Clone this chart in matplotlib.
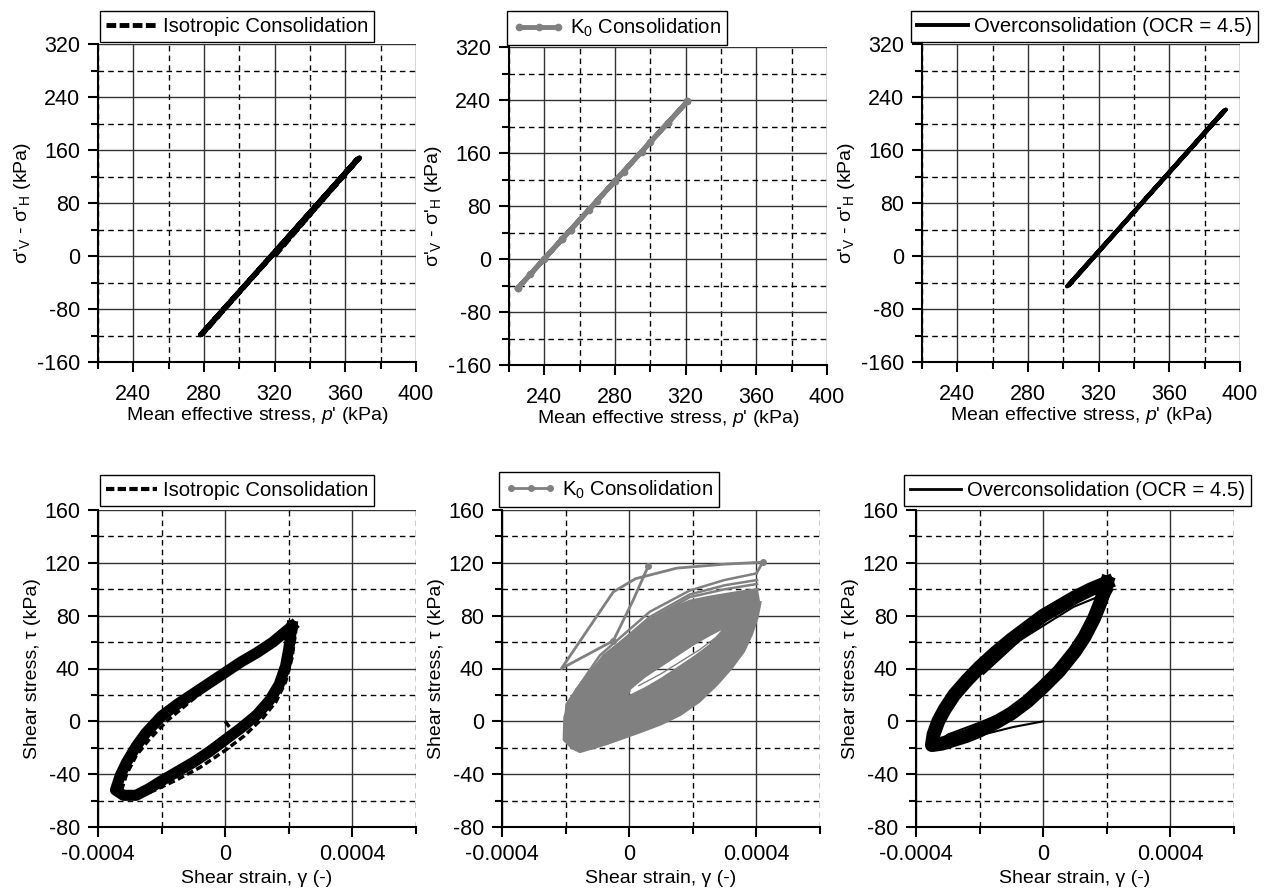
import numpy as np
import matplotlib
matplotlib.use("Agg")
import matplotlib.pyplot as plt
from matplotlib.ticker import MultipleLocator, FuncFormatter
from matplotlib.path import Path
from matplotlib.patches import PathPatch

plt.rcParams['font.family'] = ['Liberation Sans', 'DejaVu Sans']
plt.rcParams['font.size'] = 14
plt.rcParams['axes.unicode_minus'] = False
plt.rcParams['mathtext.fontset'] = 'custom'
plt.rcParams['mathtext.rm'] = 'Liberation Sans'
plt.rcParams['mathtext.it'] = 'Liberation Sans:italic'

GREY = "#808080"

# ---- stress paths (p', q) ----
iso_p = [320, 367, 279, 368, 278, 367, 279, 367, 278, 368, 320]
iso_q = [0, 147, -117, 148, -119, 146, -118, 147, -119, 148, 2]

k0_p = [225, 240, 255, 270, 285, 300, 321, 310, 295, 280, 265, 250, 232, 225, 250, 280, 310, 321]
k0_q = [-44, 0, 44, 88, 132, 176, 238, 206, 162, 118, 74, 30, -23, -44, 30, 118, 206, 238]

ocr_p = [346, 392, 302, 391, 303, 392, 346]
ocr_q = [85, 221, -46, 220, -45, 221, 85]

# ---- shear stress-strain (strain in units of 1e-4, stress in kPa) ----
# isotropic
iso_band_g = [2.1, 1.8, 1.5, 1.0, 0.5, 0.0, -0.5, -1.0, -1.5, -2.0, -2.5, -2.8, -3.1, -3.3, -3.45,
              -3.2, -2.8, -2.4, -2.0, -1.5, -1.0, -0.5, 0.0, 0.5, 1.0, 1.4, 1.7, 1.9, 2.0, 2.1]
iso_band_t = [72, 66, 60, 52, 45, 37, 29, 21, 13, 4, -9, -19, -31, -41, -52,
              -56, -56, -51, -45, -38, -31, -23, -14, -5, 5, 16, 28, 42, 55, 72]
iso_drift_g = [2.25, 1.5, 1.0, 0.2, -0.8, -1.8, -2.4, -2.8, -3.1, -3.3,
               -2.8, -2.2, -1.5, -0.8, 0.0, 0.6, 1.2, 1.6, 1.9, 2.1, 2.25]
iso_drift_t = [74, 61, 53, 39, 21, 1, -14, -26, -40, -55,
               -58, -52, -44, -35, -22, -11, 3, 15, 30, 48, 74]
iso_init_g = [0.0, 0.25, 1.0]
iso_init_t = [0, -8, 5]

# K0: grey band outline (outer) and the open core (hole)
k0_outer_g = [4.05, 3.5, 3.0, 2.5, 1.9, 1.3, 0.65, 0.0, -0.71, -1.2, -1.66, -1.9, -2.03, -2.05,
              -1.8, -1.55, -0.71, 0.34, 1.0, 1.6, 2.2, 2.76, 3.2, 3.6, 3.85, 4.02, 4.12]
k0_outer_t = [100, 98, 96, 94, 91, 85, 76, 64, 50, 38, 24, 13, 3, -14,
              -20, -23, -17, -8, -2, 5, 15, 28, 40, 53, 66, 78, 90]
k0_hole_g = [0.05, 0.5, 1.0, 1.5, 2.0, 2.5, 2.9, 2.5, 2.0, 1.5, 1.0, 0.5, 0.0]
k0_hole_t = [24, 33, 41, 49, 57, 64, 69, 58, 49, 41, 33, 26, 20]
k0_init_g = [0.6, 0.13, -0.5, -2.13, -0.5, 0.2, 1.5, 3.0, 4.2, 4.0]
k0_init_t = [117.6, 92, 61, 40, 98, 108, 116, 119, 120.5, 112]
k0_thin1_g = [4.0, 3.0, 1.9, 0.65, -0.92, -1.97, -2.03]
k0_thin1_t = [112, 107, 99, 83, 50, 13, -8]
k0_thin2_g = [4.02, 3.0, 1.9, 0.65, -0.85, -1.9, -2.0]
k0_thin2_t = [107, 103, 96, 79, 48, 14, -6]
k0_thin3_g = [4.02, 3.0, 1.9, 0.65, -0.8, -1.8]
k0_thin3_t = [104, 100, 94, 77, 50, 18]
k0_inner_g = [0.3, 1.0, 1.6, 2.2, 2.7]
k0_inner_t = [27, 36, 45, 54, 63]

# overconsolidated
ocr_init_g = [0.0, -0.94, -1.99, -3.25, -3.55, -3.0, -2.0, -1.0, 0.0, 1.16, 1.7, 2.18, 1.6, 0.95, -0.73, -1.88]
ocr_init_t = [0, -4.3, -10.6, -15.7, -21, -10, -1, 9, 24, 54, 78, 100, 93, 86.6, 61.4, 36]
ocr_band_g = [2.0, 1.5, 1.0, 0.5, 0.0, -0.5, -1.0, -1.5, -2.0, -2.4, -2.8, -3.1, -3.3, -3.45, -3.5,
              -3.2, -2.8, -2.4, -2.0, -1.5, -1.0, -0.5, 0.0, 0.5, 1.0, 1.3, 1.6, 1.8, 2.0]
ocr_band_t = [105, 100, 94, 87, 80, 71, 62, 52, 41, 31, 20, 9, 0, -10, -18,
              -17, -14, -11, -7, -1, 6, 15, 26, 38, 53, 64, 78, 90, 105]


def style_axes(ax, xlim, ylim, xmaj, xmin, ymaj, ymin, xpad):
    ax.set_xlim(*xlim)
    ax.set_ylim(*ylim)
    ax.xaxis.set_major_locator(MultipleLocator(xmaj))
    ax.xaxis.set_minor_locator(MultipleLocator(xmin))
    ax.yaxis.set_major_locator(MultipleLocator(ymaj))
    ax.yaxis.set_minor_locator(MultipleLocator(ymin))
    ax.grid(which='major', color='#333333', lw=1.0, ls='-')
    ax.grid(which='minor', color='black', lw=1.0, ls=(0, (4, 3)))
    ax.set_axisbelow(True)
    for s in ['top', 'right']:
        ax.spines[s].set_visible(False)
    for s in ['left', 'bottom']:
        ax.spines[s].set_linewidth(1.5)
    ax.tick_params(which='major', direction='out', length=7, width=1.5, labelsize=15.5)
    ax.tick_params(which='minor', direction='out', length=5, width=1.5)
    ax.tick_params(axis='x', which='major', pad=xpad)
    ax.tick_params(axis='y', which='major', pad=6)


def add_legend(ax, x, y, numpoints=1):
    leg = ax.legend(loc='lower left', bbox_to_anchor=(x, y), borderaxespad=0,
                    fancybox=False, framealpha=1, edgecolor='black', fontsize=14.6,
                    borderpad=0.3, handlelength=2.5, handletextpad=0.3,
                    numpoints=numpoints)
    leg.get_frame().set_linewidth(1.0)


fig = plt.figure(figsize=(12.66, 8.9), dpi=100)
W, H = 1266, 890
tops = [(98, 44), (509, 47), (922, 44)]
bots = [(98, 510), (502, 510), (916, 510)]
axs_top = [fig.add_axes([l / W, 1 - (t + 318) / H, 318 / W, 318 / H]) for l, t in tops]
axs_bot = [fig.add_axes([l / W, 1 - (t + 317) / H, 318 / W, 317 / H]) for l, t in bots]

ylab_top = "σ'$_\\mathregular{V}$ - σ'$_\\mathregular{H}$ (kPa)"
xlab_top = "Mean effective stress, $\\mathit{p}$' (kPa)"

# top row
ax = axs_top[0]
ax.plot(iso_p, iso_q, color='black', lw=3.5, ls=(0, (2, 0.7)), label='Isotropic Consolidation')
ax2 = axs_top[1]
ax2.plot(k0_p, k0_q, color=GREY, lw=3.5, marker='o', ms=4.5, label='K$_0$ Consolidation')
ax3 = axs_top[2]
ax3.plot(ocr_p, ocr_q, color='black', lw=2.8, label='Overconsolidation (OCR = 4.5)')

legpos_top = [(0.006, 1.006), (-0.006, 1.006), (-0.035, 1.006)]
for a, (lx, ly), npnt in zip(axs_top, legpos_top, [1, 3, 1]):
    style_axes(a, (220, 400), (-160, 320), 40, 20, 80, 40, xpad=9)
    a.set_xlabel(xlab_top, fontsize=14, labelpad=0)
    a.set_ylabel(ylab_top, fontsize=14, labelpad=3)
    add_legend(a, lx, ly, npnt)

# bottom row
e4 = 1e-4
ax = axs_bot[0]
ax.plot(np.array(iso_band_g) * e4, iso_band_t, color='black', lw=8, solid_joinstyle='round')
ax.plot(np.array(iso_drift_g) * e4, iso_drift_t, color='black', lw=2.5, ls=(0, (2, 1)))
ax.plot(np.array(iso_init_g) * e4, iso_init_t, color='black', lw=2.5, ls=(0, (2, 1)))
ax.plot([], [], color='black', lw=3, ls=(0, (2, 0.8)), label='Isotropic Consolidation')

ax = axs_bot[1]
outer = Path(np.column_stack([np.array(k0_outer_g) * e4, k0_outer_t]), closed=False)
hole = Path(np.column_stack([np.array(k0_hole_g) * e4, k0_hole_t]), closed=False)
band = PathPatch(Path.make_compound_path(outer, hole), facecolor=GREY, edgecolor='none', lw=0)
ax.add_patch(band)
ax.plot(np.array(k0_outer_g) * e4, k0_outer_t, color=GREY, lw=2, solid_joinstyle='round')
ax.plot(np.array(k0_inner_g) * e4, k0_inner_t, color=GREY, lw=1)
for g, t in [(k0_thin1_g, k0_thin1_t), (k0_thin2_g, k0_thin2_t), (k0_thin3_g, k0_thin3_t)]:
    ax.plot(np.array(g) * e4, t, color=GREY, lw=1.8)
ax.plot(np.array(k0_init_g) * e4, k0_init_t, color=GREY, lw=2, marker='o', ms=4,
        markevery=[0, 2, 8])
ax.plot([], [], color=GREY, lw=2, marker='o', ms=4, label='K$_0$ Consolidation')

ax = axs_bot[2]
ax.plot(np.array(ocr_band_g) * e4, ocr_band_t, color='black', lw=10, solid_joinstyle='round')
ax.plot(np.array(ocr_init_g) * e4, ocr_init_t, color='black', lw=1.5)
ax.plot([], [], color='black', lw=2, label='Overconsolidation (OCR = 4.5)')

fmt = FuncFormatter(lambda v, _: '0' if abs(v) < 1e-12 else f'{v:.4f}')
legpos_bot = [(0.006, 1.013), (-0.009, 1.01), (-0.038, 1.013)]
for a, (lx, ly), npnt in zip(axs_bot, legpos_bot, [1, 3, 1]):
    style_axes(a, (-0.0004, 0.0006), (-80, 160), 0.0004, 0.0002, 40, 20, xpad=5)
    a.xaxis.set_major_formatter(fmt)
    a.set_xlabel('Shear strain, γ (-)', fontsize=14, labelpad=4)
    a.set_ylabel('Shear stress, τ (kPa)', fontsize=14, labelpad=2)
    add_legend(a, lx, ly, npnt)

fig.savefig('out.png', dpi=100)
